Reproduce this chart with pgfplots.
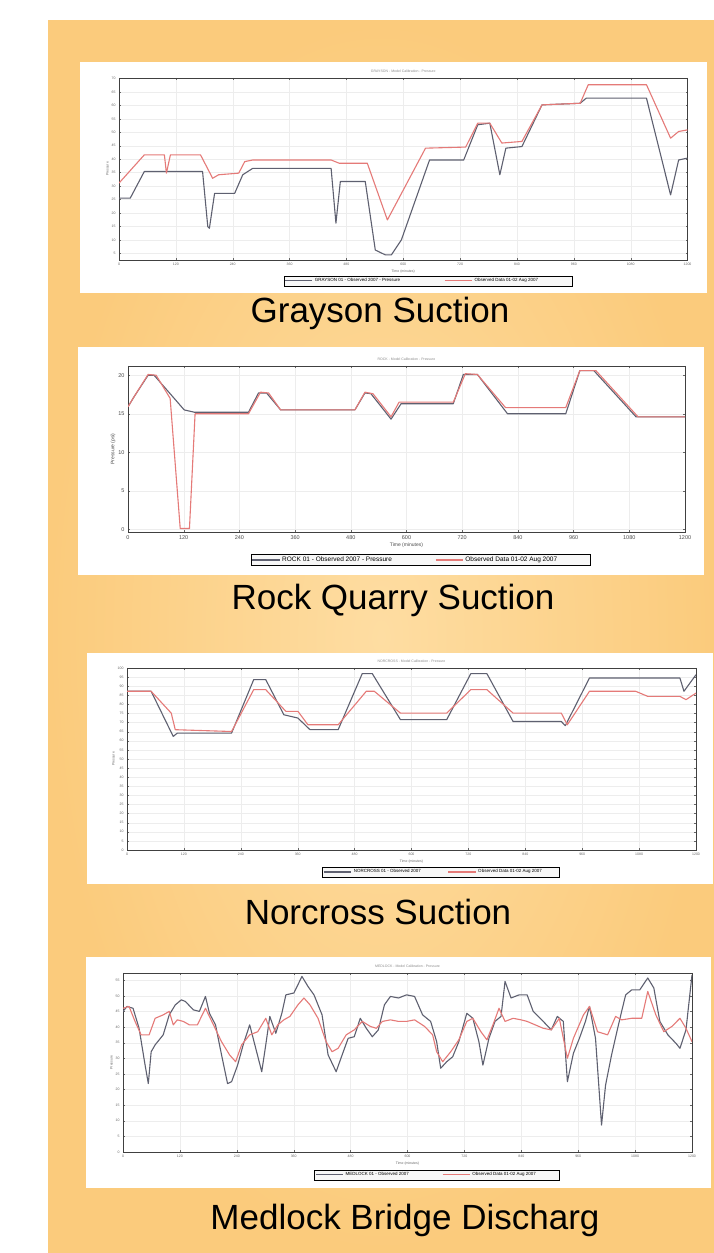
\documentclass[border=0pt]{standalone}
\usepackage{fontspec}
\setmainfont{Liberation Sans}
\usepackage{pgfplots}
\pgfplotsset{compat=1.18}
\definecolor{orOut}{HTML}{FBCB7C}
\definecolor{orIn}{HTML}{FEDDA2}
\definecolor{modl}{HTML}{5E6070}
\definecolor{obs}{HTML}{E57A78}
\pgfplotsset{chart/.style={scale only axis, xmin=0, xmax=1200, xtick={0,120,...,1200},
  grid=major, major grid style={black!7, line width=0.3pt},
  axis line style={black!75, line width=0.6pt},
  tick style={black!60, line width=0.3pt}, major tick length=2pt,
  tick label style={font=\fontsize{3.5}{4}\selectfont, text=black!60},
  label style={font=\fontsize{3.5}{4}\selectfont, text=black!60},
  ylabel style={yshift=-4pt}, xlabel style={yshift=3pt},
  title style={font=\fontsize{3.5}{4}\selectfont, text=black!45, yshift=-4pt},
  legend columns=2,
  legend image post style={xscale=1.6},
  legend style={font=\fontsize{4.5}{5}\selectfont, draw=black, line width=0.7pt, inner sep=0.6pt, anchor=center,
    fill=black!3, /tikz/every even column/.append style={column sep=10pt}},
  every axis plot/.append style={line width=1.1pt, line join=round},
  /pgf/number format/1000 sep={},
  /pgf/number format/assume math mode=true}}
\begin{document}
\begin{tikzpicture}[x=1pt,y=1pt]
\fill[white] (0,0) rectangle (714,1253);
\shade[inner color=orIn, outer color=orOut] (48,0) rectangle (714,1232);
% white chart panels
\fill[white] (80,960) rectangle (707,1191);
\fill[white] (78,678) rectangle (704,906);
\fill[white] (87,369) rectangle (713,600);
\fill[white] (86,65) rectangle (711,296);
% captions
\node[font=\fontsize{35}{40}\selectfont] at (380,940) {Grayson Suction};
\node[font=\fontsize{35}{40}\selectfont] at (393,653) {Rock Quarry Suction};
\node[font=\fontsize{35}{40}\selectfont] at (378,341) {Norcross Suction};
\node[font=\fontsize{35}{40}\selectfont] at (405,33) {Medlock Bridge Discharg};
\begin{scope}
\clip (0,0) rectangle (714,1253);
% ---------------- Chart 1: Grayson
\begin{axis}[chart, at={(119pt,993pt)}, anchor=south west, width=568.5pt, height=182pt,
  ymin=2.5, ymax=70.2, ytick={5,10,...,70},
  title={GRAYSON - Model Calibration - Pressure}, xlabel={Time (minutes)}, ylabel={Pressure},
  legend style={at={(0.544,-0.115)}}]
\addplot[modl] coordinates {(0,25.5)(23.7,25.5)(53.4,35.4)(176.4,35.4)(187.4,14.9)(190.8,14.3)(201.8,27.3)(244.2,27.3)(261.2,34.2)(282.4,36.6)(447.7,36.6)(457.9,16.2)(467.2,31.7)(519.8,31.7)(541.0,6.2)(562.2,4.4)(574.9,4.4)(596.1,10.0)(655.5,39.7)(727.6,39.7)(757.3,52.8)(782.7,53.4)(803.9,34.2)(816.6,44.1)(850.5,44.7)(892.9,60.2)(973.5,60.8)(986.2,62.7)(1113.4,62.7)(1164.3,26.7)(1181.3,39.7)(1200,40.4)};
\addlegendentry{GRAYSON 01 - Observed 2007 - Pressure\rule{32pt}{0pt}}
\addplot[obs] coordinates {(0,31.1)(53.4,41.6)(95.8,41.6)(100.1,34.8)(108.5,41.6)(172.1,41.6)(197.6,32.9)(210.3,34.2)(252.7,34.8)(265.4,39.1)(282.4,39.7)(447.7,39.7)(464.7,38.5)(524.1,38.5)(566.5,17.4)(647.0,44.1)(731.8,44.5)(757.3,53.4)(782.7,53.4)(808.1,46.0)(850.5,46.6)(892.9,60.2)(973.5,60.8)(990.5,67.7)(1113.4,67.7)(1164.3,47.8)(1181.3,50.3)(1200,50.9)};
\addlegendentry{Observed Data 01-02 Aug 2007\rule{32pt}{0pt}}
\end{axis}

% ---------------- Chart 2: Rock Quarry
\begin{axis}[chart, at={(128pt,721pt)}, anchor=south west, width=557pt, height=166pt,
  ymin=-0.35, ymax=21.2, ytick={0,5,...,20},
  tick label style={font=\fontsize{5.5}{6}\selectfont, text=black!70},
  label style={font=\fontsize{5}{6}\selectfont, text=black!70},
  title={ROCK - Model Calibration - Pressure}, xlabel={Time (minutes)}, ylabel={Pressure (psi)},
  legend style={at={(0.526,-0.169)}, font=\fontsize{6.5}{7}\selectfont}]
\addplot[modl] coordinates {(0,15.9)(13,17.2)(43.3,20.0)(56.2,20.0)(121.1,15.5)(142.8,15.2)(259.6,15.2)(281.2,17.7)(298.5,17.7)(328.8,15.5)(488.8,15.5)(510.5,17.7)(523.4,17.6)(566.7,14.3)(588.3,16.3)(700.8,16.3)(722.4,20.1)(752.7,20.1)(817.6,15.0)(943.1,15.0)(973.4,20.6)(1003.6,20.6)(1094.5,14.6)(1200,14.6)};
\addlegendentry{ROCK 01 - Observed 2007 - Pressure\rule{31pt}{0pt}}
\addplot[obs] coordinates {(0,15.9)(13,17.2)(43.3,20.1)(60.6,20.0)(90.8,17.0)(112.5,0.1)(132.4,0.1)(144.5,15.0)(259.6,15.0)(285.5,17.8)(302.8,17.7)(328.8,15.5)(488.8,15.5)(510.5,17.8)(527.8,17.6)(566.7,14.6)(584.0,16.5)(700.8,16.5)(726.8,20.2)(752.7,20.1)(813.3,15.8)(943.1,15.8)(973.4,20.6)(1008.0,20.6)(1098.8,14.6)(1200,14.6)};
\addlegendentry{Observed Data 01-02 Aug 2007\rule{31pt}{0pt}}
\end{axis}

% ---------------- Chart 3: Norcross
\begin{axis}[chart, at={(127pt,403pt)}, anchor=south west, width=569pt, height=182pt,
  ymin=0, ymax=100, ytick={0,5,...,100},
  title={NORCROSS - Model Calibration - Pressure}, xlabel={Time (minutes)}, ylabel={Pressure},
  legend style={at={(0.552,-0.121)}}]
\addplot[modl] coordinates {(0,87.2)(50.9,87.2)(97.5,62.4)(106.0,64.2)(220.5,64.2)(267.2,93.6)(292.6,93.6)(330.8,74.3)(360.4,72.5)(385.9,66.1)(445.3,66.1)(496.1,96.9)(517.3,96.9)(576.7,71.6)(674.2,71.6)(725.1,96.9)(759.0,96.9)(814.2,70.6)(915.9,70.6)(924.4,68.3)(975.3,94.5)(1166.1,94.5)(1174.6,87.2)(1200,96.3)};
\addlegendentry{NORCROSS 01 - Observed 2007\rule{15pt}{0pt}}
\addplot[obs] coordinates {(0,87.2)(50.9,87.2)(93.3,75.2)(101.8,66.1)(220.5,65.1)(267.2,88.1)(292.6,88.1)(335.0,76.2)(360.4,76.2)(381.6,68.8)(445.3,68.8)(504.6,87.2)(521.6,87.2)(576.7,75.2)(674.2,75.2)(725.1,88.1)(759.0,88.1)(814.2,75.2)(915.9,75.2)(928.6,68.8)(975.3,87.2)(1072.8,87.2)(1098.3,84.4)(1166.1,84.4)(1178.9,82.6)(1200,86.2)};
\addlegendentry{Observed Data 01-02 Aug 2007\rule{15pt}{0pt}}
\end{axis}

% ---------------- Chart 4: Medlock Bridge
\begin{axis}[chart, at={(123pt,101pt)}, anchor=south west, width=569pt, height=179pt,
  ymin=0, ymax=57.3, ytick={0,5,...,55},
  title={MEDLOCK - Model Calibration - Pressure}, xlabel={Time (minutes)}, ylabel={Pressure},
  legend style={at={(0.552,-0.128)}}]
\addplot[modl] coordinates {(0,45.0)(8.5,46.6)(21.2,46.0)(33.9,39.6)(46.6,27.8)(53.4,21.9)(59.4,32.1)(67.8,34.3)(84.8,37.5)(97.5,43.9)(110.3,47.1)(123.0,48.7)(131.5,48.2)(148.4,45.5)(161.1,45.0)(173.9,49.8)(182.3,44.4)(195.1,40.7)(207.8,31.1)(220.5,21.9)(229.0,22.5)(241.7,27.8)(254.4,34.8)(267.2,40.7)(279.9,33.2)(292.6,25.7)(301.1,34.3)(309.6,43.4)(322.3,38.0)(335.0,44.4)(343.5,50.3)(360.4,50.9)(377.4,56.2)(390.1,53.0)(402.8,50.3)(419.8,43.9)(432.5,31.1)(449.5,25.7)(462.2,31.1)(474.9,36.4)(487.7,36.9)(500.4,42.8)(513.1,39.6)(525.8,36.9)(538.5,39.1)(551.3,47.1)(564.0,49.8)(581.0,49.3)(597.9,50.3)(614.9,49.8)(631.8,43.9)(648.8,41.8)(661.5,35.3)(670.0,26.8)(682.7,28.9)(695.4,30.5)(708.2,35.3)(725.1,44.4)(737.8,42.8)(750.6,35.3)(759.0,27.8)(771.8,36.4)(784.5,41.8)(797.2,43.4)(805.7,54.6)(818.4,49.3)(835.4,50.3)(852.3,50.3)(865.1,45.0)(886.3,41.8)(903.2,39.1)(915.9,43.4)(928.6,41.8)(937.2,22.5)(949.9,31.6)(962.6,36.4)(975.3,41.8)(983.8,46.6)(996.5,36.4)(1009.2,8.6)(1017.7,21.4)(1030.4,31.1)(1043.2,39.6)(1051.6,45.0)(1060.1,50.3)(1072.8,51.9)(1089.8,51.9)(1106.7,55.7)(1119.5,52.5)(1132.2,41.8)(1149.1,37.5)(1166.1,34.8)(1174.6,33.2)(1187.3,39.1)(1200,56.7)};
\addlegendentry{MEDLOCK 01 - Observed 2007\rule{21pt}{0pt}}
\addplot[obs] coordinates {(0,46.0)(12.7,46.6)(25.4,41.8)(38.2,37.5)(55.1,37.5)(67.8,42.8)(84.8,43.9)(97.5,45.0)(106.0,40.7)(114.5,42.3)(127.2,41.8)(139.9,40.7)(156.9,40.7)(173.9,46.0)(190.8,40.7)(207.8,35.3)(224.7,31.1)(237.5,28.9)(250.2,34.3)(267.2,37.5)(284.1,38.5)(301.1,42.8)(313.8,37.5)(326.5,40.7)(339.2,42.3)(352.0,43.4)(368.9,47.1)(381.6,49.3)(394.4,47.1)(411.3,42.8)(428.3,35.3)(441.0,32.1)(453.7,33.2)(470.7,37.5)(487.7,39.1)(504.6,41.8)(521.6,40.2)(534.3,39.6)(547.0,41.8)(564.0,42.3)(581.0,41.8)(597.9,41.8)(614.9,42.3)(636.1,40.2)(653.0,37.5)(661.5,32.1)(674.2,28.9)(691.2,32.1)(708.2,35.9)(725.1,41.8)(737.8,42.8)(754.8,38.5)(767.5,35.9)(780.2,40.7)(793.0,46.0)(805.7,41.8)(822.7,42.8)(839.6,42.3)(852.3,41.8)(869.3,40.7)(886.3,39.6)(903.2,39.1)(920.2,42.8)(937.2,30.0)(949.9,36.4)(971.1,43.9)(983.8,46.6)(1000.8,38.5)(1022.0,37.5)(1038.9,43.4)(1051.6,42.3)(1072.8,42.8)(1094.0,42.8)(1106.7,51.4)(1123.7,43.9)(1140.6,38.5)(1157.6,40.2)(1174.6,42.8)(1187.3,39.6)(1200,35.3)};
\addlegendentry{Observed Data 01-02 Aug 2007\rule{21pt}{0pt}}
\end{axis}
\end{scope}
\end{tikzpicture}
\end{document}
